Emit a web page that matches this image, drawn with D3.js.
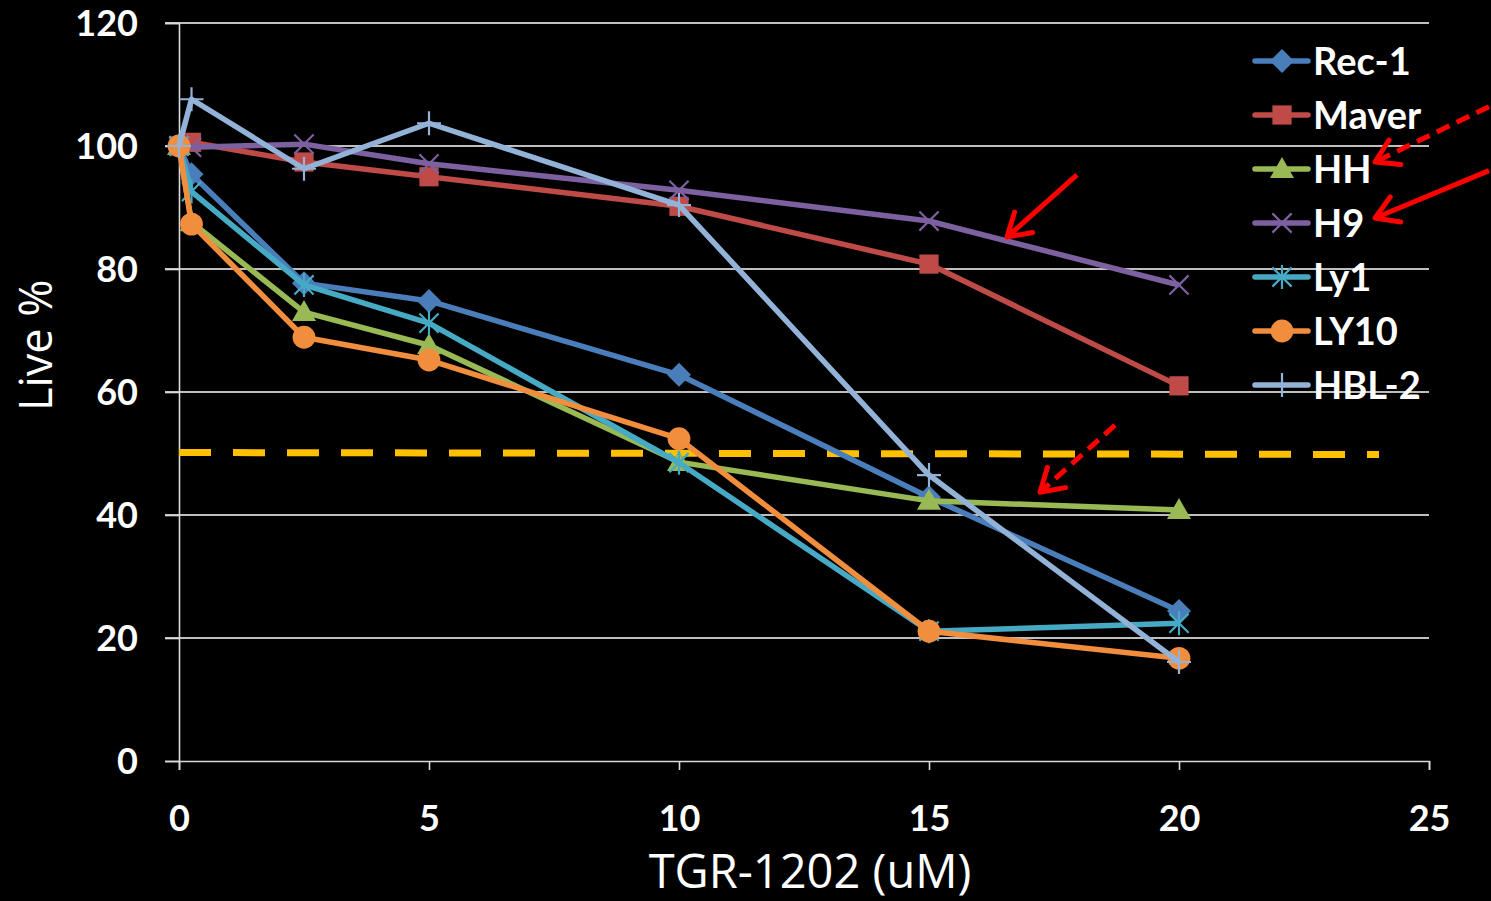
<!DOCTYPE html>
<html><head><meta charset="utf-8">
<script src="https://cdn.jsdelivr.net/npm/d3@7"></script>
<style>html,body{margin:0;padding:0;background:#000;}svg{display:block;}</style>
</head><body>
<svg id="c" width="1491" height="901"></svg>
<script>
const doses = [0, 0.25, 2.5, 5, 10, 15, 20];
const rec1  = [100, 95.4, 77.7, 74.8, 62.8, 42.9, 24.4];
const maver = [100, 100.6, 97.4, 95.0, 90.2, 80.8, 61.0];
const hh    = [100, 87.6, 73.0, 67.6, 48.6, 42.3, 40.8];
const h9    = [100, 99.8, 100.3, 97.1, 92.8, 87.8, 77.4];
const ly1   = [100, 92.6, 77.4, 71.2, 48.5, 21.1, 22.4];
const ly10  = [100, 87.3, 68.9, 65.2, 52.4, 21.1, 16.7];
const hbl2  = [100, 107.6, 96.3, 103.7, 90.4, 46.5, 16.1];
const seriesNames = ["Rec-1","Maver","HH","H9","Ly1","LY10","HBL-2"];
const xTicks = [0, 5, 10, 15, 20, 25];
const yTicks = [0, 20, 40, 60, 80, 100, 120];
const threshold = 50;

const colors = ["#4A7EBB","#BE4B48","#98B954","#7D60A0","#46AAC5","#F18E3E","#93B2D8"];
const symbols = ["diamond","square","triangle","x","star","circle","plus"];
const allValues = [rec1, maver, hh, h9, ly1, ly10, hbl2];

const svg = d3.select("#c");
const x = d3.scaleLinear().domain([0,25]).range([179,1429]);
const y = d3.scaleLinear().domain([0,120]).range([761,23]);

// gridlines
svg.append("g").selectAll("line").data(yTicks.filter(d=>d>0)).join("line")
  .attr("x1", x(0)-14).attr("x2", x(25)).attr("y1", d=>y(d)).attr("y2", d=>y(d))
  .attr("stroke","#fff").attr("stroke-width",1.6);

// axes
const xa = svg.append("g").attr("transform",`translate(0,${y(0)})`)
  .call(d3.axisBottom(x).tickValues(xTicks).tickSize(9).tickFormat(d3.format("d")));
const ya = svg.append("g").attr("transform",`translate(${x(0)},0)`)
  .call(d3.axisLeft(y).tickValues(yTicks).tickSize(14).tickPadding(27));
[xa, ya].forEach(a=>{
  a.select(".domain").attr("stroke","#d9d9d9").attr("stroke-width",1.6);
  a.selectAll(".tick line").attr("stroke","#d9d9d9").attr("stroke-width",1.6);
  a.selectAll("text").attr("fill","#fff").attr("font-family","Lato, 'Open Sans', sans-serif")
   .attr("font-weight","bold").attr("font-size",36);
});
xa.selectAll("text").attr("y", 57).attr("dy","0.35em");
ya.selectAll("text").attr("dy","0.35em");

// axis titles
svg.append("text").attr("x", 810).attr("y", 888).attr("text-anchor","middle")
  .attr("fill","#fff").attr("font-family","'Open Sans', sans-serif").attr("font-size",47)
  .text("TGR-1202 (uM)");
svg.append("text").attr("transform",`translate(52,${y(67.6)}) rotate(-90)`).attr("text-anchor","middle")
  .attr("fill","#fff").attr("font-family","'Open Sans', sans-serif").attr("font-size",45)
  .text("Live %");

// threshold dashed line
svg.append("line").attr("x1", x(0)).attr("x2", x(24)).attr("y1", y(threshold)-1).attr("y2", y(threshold)+1)
  .attr("stroke","#FFC000").attr("stroke-width",7).attr("stroke-dasharray","32,22");

function marker(g, type, color, size){
  const s = size;
  if(type==="diamond") g.append("path").attr("d",`M0,${-s}L${s},0L0,${s}L${-s},0Z`).attr("fill",color);
  else if(type==="square") g.append("rect").attr("x",-s*0.8).attr("y",-s*0.8).attr("width",s*1.6).attr("height",s*1.6).attr("fill",color);
  else if(type==="triangle") g.append("path").attr("d",`M0,${-s}L${s},${s*0.75}L${-s},${s*0.75}Z`).attr("fill",color);
  else if(type==="circle") g.append("circle").attr("r",s*0.95).attr("fill",color);
  else if(type==="x") g.append("path").attr("d",`M${-s*0.8},${-s*0.8}L${s*0.8},${s*0.8}M${-s*0.8},${s*0.8}L${s*0.8},${-s*0.8}`).attr("stroke",color).attr("stroke-width",2.2);
  else if(type==="star") g.append("path").attr("d",`M${-s*0.8},${-s*0.8}L${s*0.8},${s*0.8}M${-s*0.8},${s*0.8}L${s*0.8},${-s*0.8}M0,${-s}L0,${s}`).attr("stroke",color).attr("stroke-width",2.2);
  else if(type==="plus") g.append("path").attr("d",`M${-s},0L${s},0M0,${-s}L0,${s}`).attr("stroke",color).attr("stroke-width",2.2);
}

const line = d3.line().x(d=>x(d[0])).y(d=>y(d[1]));
allValues.forEach((vals,i)=>{
  const pts = doses.map((d,j)=>[d, vals[j]]);
  const g = svg.append("g");
  g.append("path").attr("d", line(pts)).attr("fill","none").attr("stroke",colors[i])
    .attr("stroke-width",5.5).attr("stroke-linejoin","round");
  pts.forEach(p=>{
    const mg = g.append("g").attr("transform",`translate(${x(p[0])},${y(p[1])})`);
    marker(mg, symbols[i], colors[i], 12);
  });
});

// legend
const leg = svg.append("g");
seriesNames.forEach((n,i)=>{
  const yy = 61 + i*54;
  const g = leg.append("g").attr("transform",`translate(1255,${yy})`);
  g.append("line").attr("x1",0).attr("x2",53).attr("stroke",colors[i]).attr("stroke-width",5.5).attr("stroke-linecap","round");
  const mg = g.append("g").attr("transform","translate(27,0)");
  marker(mg, symbols[i], colors[i], 12);
  g.append("text").attr("x",58).attr("y",0).attr("dy","0.36em").attr("fill","#fff")
    .attr("font-family","Lato, 'Open Sans', sans-serif").attr("font-weight","bold").attr("font-size",38).text(n);
});

// red annotation arrows (in data units)
const arrows = [
  {x1:17.96,y1:95.3,x2:16.56,y2:85.2,dash:false},
  {x1:18.72,y1:54.6,x2:17.22,y2:43.7,dash:true},
  {x1:26.2,y1:106.4,x2:23.92,y2:97.4,dash:true},
  {x1:26.2,y1:96.0,x2:23.92,y2:88.3,dash:false}
];
arrows.forEach(a=>{
  const X1=x(a.x1),Y1=y(a.y1),X2=x(a.x2),Y2=y(a.y2);
  svg.append("line").attr("x1",X1).attr("y1",Y1).attr("x2",X2).attr("y2",Y2)
    .attr("stroke","#FF0000").attr("stroke-width",5)
    .attr("stroke-dasharray", a.dash ? "14,8" : null);
  const ang = Math.atan2(Y1-Y2, X1-X2);
  const L = 26, spread = 0.55;
  const p1 = [X2 + L*Math.cos(ang+spread), Y2 + L*Math.sin(ang+spread)];
  const p2 = [X2 + L*Math.cos(ang-spread), Y2 + L*Math.sin(ang-spread)];
  svg.append("path").attr("d",`M${p1[0]},${p1[1]}L${X2},${Y2}L${p2[0]},${p2[1]}`)
    .attr("fill","none").attr("stroke","#FF0000").attr("stroke-width",5)
    .attr("stroke-linecap","round").attr("stroke-linejoin","round");
});
</script>
</body></html>
